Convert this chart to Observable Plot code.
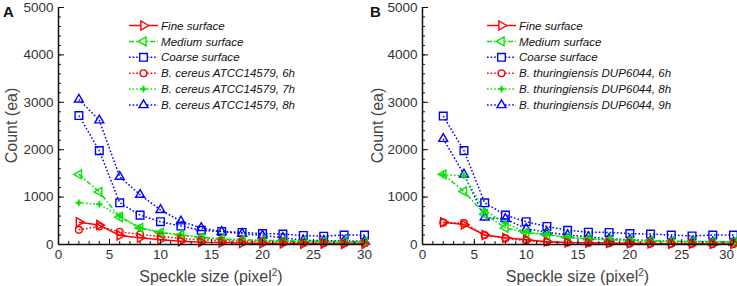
<!DOCTYPE html>
<html>
<head>
<meta charset="utf-8">
<script src="https://cdn.jsdelivr.net/npm/d3@7"></script>
<script src="https://cdn.jsdelivr.net/npm/@observablehq/plot@0.6"></script>
<style>
  body { margin: 0; background: #fff; }
  #wrap { position: relative; width: 737px; height: 286px; overflow: hidden; font-family: "Liberation Sans", Arial, sans-serif; }
  .panel { position: absolute; top: 0; height: 286px; }
  .panel svg.legend { position: absolute; top: 0; left: 0; overflow: visible; }
  .plabel { position: absolute; top: 3px; font: bold 15px "Liberation Sans", Arial, sans-serif; color: #111; }
</style>
</head>
<body>
<div id="wrap">
  <div class="panel" id="pA" style="left:0;width:370px"></div>
  <div class="panel" id="pB" style="left:370px;width:367px"></div>
</div>
<script>
// ---- data ----
const speckleSize = [2, 4, 6, 8, 10, 12, 14, 16, 18, 20, 22, 24, 26, 28, 30];
const xTicks = [0, 5, 10, 15, 20, 25, 30];
const yTicks = [0, 1000, 2000, 3000, 4000, 5000];

// Panel A
const fineA   = [470, 410, 190, 140, 100, 70, 50, 40, 30, 25, 20, 15, 15, 10, 10];
const mediumA = [1480, 1110, 580, 350, 250, 200, 150, 120, 100, 90, 80, 70, 65, 60, 55];
const coarseA = [2720, 1980, 880, 620, 480, 390, 300, 275, 255, 230, 220, 190, 175, 200, 200];
const cereus6h = [310, 380, 270, 210, 170, 130, 100, 80, 70, 60, 50, 40, 35, 30, 30];
const cereus7h = [880, 850, 600, 350, 260, 200, 140, 110, 90, 80, 70, 60, 55, 50, 50];
const cereus8h = [3060, 2620, 1430, 1050, 730, 490, 350, 270, 230, 190, 140, 90, 80, 75, 70];
const labelsA = ["Fine surface", "Medium surface", "Coarse surface",
  "B. cereus ATCC14579, 6h", "B. cereus ATCC14579, 7h", "B. cereus ATCC14579, 8h"];

// Panel B
const fineB   = [470, 420, 200, 140, 100, 60, 40, 35, 30, 25, 20, 15, 15, 10, 10];
const mediumB = [1480, 1120, 640, 350, 250, 200, 150, 120, 100, 90, 80, 70, 65, 60, 55];
const coarseB = [2710, 1980, 880, 620, 480, 380, 300, 260, 255, 230, 220, 200, 180, 200, 200];
const thur6h = [460, 450, 200, 130, 80, 50, 40, 30, 25, 20, 20, 15, 15, 10, 10];
const thur8h = [1470, 1450, 720, 450, 260, 220, 150, 120, 100, 80, 70, 60, 55, 50, 50];
const thur9h = [2230, 1480, 570, 540, 330, 260, 200, 160, 120, 100, 80, 60, 55, 50, 45];
const labelsB = ["Fine surface", "Medium surface", "Coarse surface",
  "B. thuringiensis DUP6044, 6h", "B. thuringiensis DUP6044, 8h", "B. thuringiensis DUP6044, 9h"];

// ---- symbols ----
const triRight = {draw(c, s) { const r = Math.sqrt(s / Math.PI) * 1.15;
  c.moveTo(r, 0); c.lineTo(-r * 0.5, -r * 0.866); c.lineTo(-r * 0.5, r * 0.866); c.closePath(); }};
const triLeft = {draw(c, s) { const r = Math.sqrt(s / Math.PI) * 1.15;
  c.moveTo(-r, 0); c.lineTo(r * 0.5, -r * 0.866); c.lineTo(r * 0.5, r * 0.866); c.closePath(); }};
const triUp = {draw(c, s) { const r = Math.sqrt(s / Math.PI) * 1.15;
  c.moveTo(0, -r); c.lineTo(r * 0.866, r * 0.5); c.lineTo(-r * 0.866, r * 0.5); c.closePath(); }};
const square = {draw(c, s) { const h = Math.sqrt(s / Math.PI) * 0.85;
  c.moveTo(-h, -h); c.lineTo(h, -h); c.lineTo(h, h); c.lineTo(-h, h); c.closePath(); }};
const circ = {draw(c, s) { const r = Math.sqrt(s / Math.PI) * 0.75;
  c.moveTo(r, 0); c.arc(0, 0, r, 0, 2 * Math.PI); c.closePath(); }};
const star4 = {draw(c, s) { const R = Math.sqrt(s / Math.PI) * 0.75, q = R * 0.3;
  c.moveTo(0, -R); c.lineTo(q, -q); c.lineTo(R, 0); c.lineTo(q, q);
  c.lineTo(0, R); c.lineTo(-q, q); c.lineTo(-R, 0); c.lineTo(-q, -q); c.closePath(); }};

const RED = "#ff0000", GREEN = "#00e600", BLUE = "#0000ff";
const DOT = "1.6,2", DASHDOT = "5,2,1.6,2";

function styles() {
  return [
    {color: RED, dash: null, sym: triRight, fill: "none", sw: 1.4},
    {color: GREEN, dash: DASHDOT, sym: triLeft, fill: "none", sw: 1.4},
    {color: BLUE, dash: DOT, sym: square, fill: "none", sw: 1.4},
    {color: RED, dash: DOT, sym: circ, fill: "none", sw: 1.4},
    {color: GREEN, dash: DOT, sym: star4, fill: GREEN, sw: 0.8},
    {color: BLUE, dash: DOT, sym: triUp, fill: "none", sw: 1.4}
  ];
}

function panel(el, seriesValues, labels, opts) {
  const st = styles();
  const marks = [];
  for (let i = seriesValues.length - 1; i >= 0; i--) {
    const s = st[i];
    const rows = speckleSize.map((x, j) => ({x, y: seriesValues[i][j]}));
    marks.push(Plot.line(rows, {x: "x", y: "y", stroke: s.color, strokeWidth: 1.5,
      strokeDasharray: s.dash || undefined, strokeLinecap: "butt"}));
    marks.push(Plot.dot(rows, {x: "x", y: "y", symbol: s.sym, r: 4.5, stroke: s.color,
      fill: s.fill, strokeWidth: s.sw}));
  }
  const lastTick = xTicks[xTicks.length - 1];
  marks.push(Plot.axisX({ticks: xTicks.slice(0, -1), tickSize: 0, tickPadding: 5, fontSize: 13.5,
    label: null, tickFormat: d3.format("d"), fill: "#333"}));
  marks.push(Plot.axisX({ticks: [lastTick], tickSize: 0, tickPadding: 5, fontSize: 13.5,
    label: null, tickFormat: d3.format("d"), dx: opts.lastDx, fill: "#333"}));
  marks.push(Plot.axisX({ticks: d3.range(0, 31, 1), tickSize: -3, text: null, stroke: "#111", strokeWidth: 1}));
  marks.push(Plot.axisX({ticks: xTicks, tickSize: -5, text: null, stroke: "#111", strokeWidth: 1}));
  marks.push(Plot.axisY({ticks: yTicks, tickSize: 0, tickPadding: 5, fontSize: 13.5,
    label: null, tickFormat: d3.format("d"), fill: "#333"}));
  marks.push(Plot.axisY({ticks: d3.range(0, 5001, 200), tickSize: -3, text: null, stroke: "#111", strokeWidth: 1}));
  marks.push(Plot.axisY({ticks: yTicks, tickSize: -6, text: null, stroke: "#111", strokeWidth: 1}));
  marks.push(Plot.ruleX([0], {stroke: "#111", strokeWidth: 1.5}));
  marks.push(Plot.ruleY([0], {stroke: "#111", strokeWidth: 1.5}));

  const chart = Plot.plot({
    width: opts.width, height: 286,
    marginLeft: opts.ml, marginRight: opts.mr, marginTop: 7, marginBottom: 42,
    style: {fontFamily: '"Liberation Sans", Arial, sans-serif', color: "#222", overflow: "visible", background: "none"},
    x: {domain: [0, 30], label: null},
    y: {domain: [0, 5000], label: null},
    marks
  });
  el.appendChild(chart);

  const svg = d3.select(chart);
  const x0 = opts.ml, x1 = opts.width - opts.mr;
  const t = svg.append("text").attr("x", (x0 + x1) / 2).attr("y", 282)
    .attr("text-anchor", "middle").attr("font-size", 16).attr("fill", "#444")
    .attr("font-family", '"Liberation Sans", Arial, sans-serif');
  t.append("tspan").text("Speckle size (pixel");
  t.append("tspan").attr("font-size", 10).attr("dy", -6).text("2");
  t.append("tspan").attr("dy", 6).text(")");
  svg.append("text").attr("transform", `translate(${opts.ytx},${(7 + 244) / 2}) rotate(-90)`)
    .attr("text-anchor", "middle").attr("dy", "0.35em").attr("font-size", 16).attr("fill", "#444")
    .attr("font-family", '"Liberation Sans", Arial, sans-serif')
    .text("Count (ea)");

  const lg = d3.select(el).append("svg").attr("class", "legend")
    .attr("width", opts.width).attr("height", 120);
  labels.forEach((lab, i) => {
    const s = st[i];
    const y = 25.5 + i * 15.9;
    lg.append("line").attr("x1", opts.lx).attr("x2", opts.lx + 29).attr("y1", y).attr("y2", y)
      .attr("stroke", s.color).attr("stroke-width", 1.5)
      .attr("stroke-dasharray", s.dash || null);
    lg.append("path").attr("transform", `translate(${opts.lx + 14.5},${y})`)
      .attr("d", d3.symbol().type(s.sym).size(Math.PI * 4.5 * 4.5)())
      .attr("stroke", s.color).attr("stroke-width", s.sw).attr("fill", s.fill === "none" ? "#fff" : s.fill);
    lg.append("text").attr("x", opts.lx + 32).attr("y", y).attr("dy", "0.36em")
      .attr("font-size", 11.6).attr("font-style", "italic").attr("fill", "#111")
      .attr("font-family", '"Liberation Sans", Arial, sans-serif')
      .text(lab);
  });
  const pl = document.createElement("div");
  pl.className = "plabel"; pl.style.left = opts.plx + "px"; pl.textContent = opts.tag;
  el.appendChild(pl);
}

panel(document.getElementById("pA"), [fineA, mediumA, coarseA, cereus6h, cereus7h, cereus8h], labelsA,
  {width: 370, ml: 58, mr: 6, lx: 129, ytx: 11, plx: 3, tag: "A", lastDx: 0});
panel(document.getElementById("pB"), [fineB, mediumB, coarseB, thur6h, thur8h, thur9h], labelsB,
  {width: 367, ml: 52, mr: 4, lx: 117, ytx: 7, plx: 0, tag: "B", lastDx: -7});
</script>
</body>
</html>
